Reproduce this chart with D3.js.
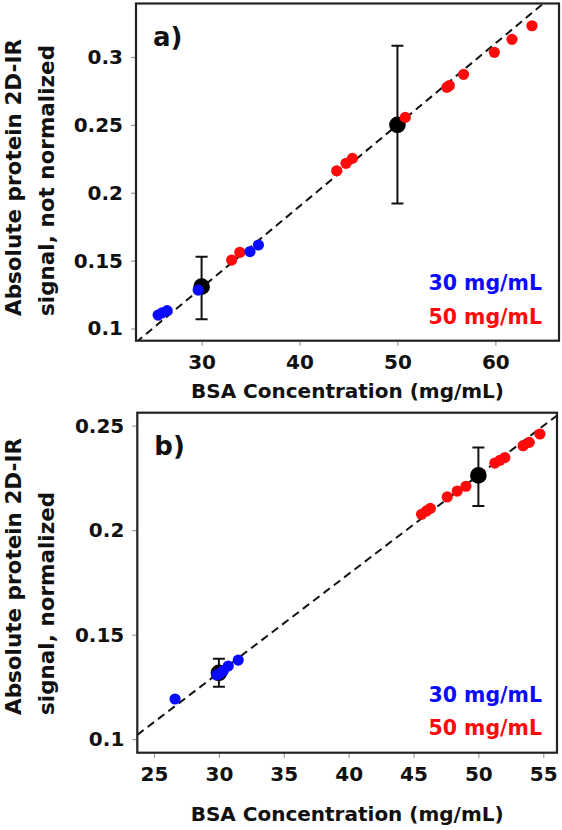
<!DOCTYPE html>
<html><head><meta charset="utf-8">
<script src="https://cdn.jsdelivr.net/npm/d3@7"></script>
<style>
html,body{margin:0;padding:0;background:#fff;}
svg{display:block;font-family:"DejaVu Sans",sans-serif;font-weight:bold;}
</style></head>
<body><svg id="c" width="562" height="830"></svg>
<script>
// ---------- Panel a data (not normalized) ----------
const aXTicks = [30, 40, 50, 60];
const aYTicks = [0.1, 0.15, 0.2, 0.25, 0.3];
const aYTickLabels = ["0.1", "0.15", "0.2", "0.25", "0.3"];
const aBlueX = [25.56, 25.95, 26.48, 29.65, 34.94, 35.8];
const aBlueY = [0.1099, 0.1115, 0.1131, 0.1283, 0.1566, 0.1615];
const aRedX = [33.07, 33.9, 43.8, 44.75, 45.4, 50.8, 55.05, 55.3, 56.75, 59.9, 61.7, 63.74];
const aRedY = [0.1504, 0.1561, 0.2162, 0.2217, 0.2253, 0.2555, 0.2776, 0.279, 0.2872, 0.3034, 0.313, 0.323];
const aMeanX = [30, 50];
const aMeanY = [0.1308, 0.2500];
const aErrLo = [0.1068, 0.1921];
const aErrHi = [0.1529, 0.3083];
const aFit = [0.006, -0.05]; // slope, intercept

// ---------- Panel b data (normalized) ----------
const bXTicks = [25, 30, 35, 40, 45, 50, 55];
const bYTicks = [0.1, 0.15, 0.2, 0.25];
const bYTickLabels = ["0.1", "0.15", "0.2", "0.25"];
const bBlueX = [26.62, 29.83, 30.08, 30.34, 30.72, 31.49];
const bBlueY = [0.1192, 0.1307, 0.1315, 0.1327, 0.135, 0.1378];
const bRedX = [45.62, 46.0, 46.3, 47.6, 48.37, 49.04, 51.27, 51.66, 52.04, 53.45, 53.92, 54.74];
const bRedY = [0.2076, 0.2092, 0.2104, 0.2159, 0.2187, 0.221, 0.2321, 0.2334, 0.2347, 0.2404, 0.242, 0.246];
const bMeanX = [30, 50];
const bMeanY = [0.1317, 0.2262];
const bErrLo = [0.125, 0.2116];
const bErrHi = [0.1384, 0.2395];
const bFit = [0.004725, -0.01];

const legendLabels = ["30 mg/mL", "50 mg/mL"];
const xTitle = "BSA Concentration (mg/mL)";
const yTitleA = ["Absolute protein 2D-IR", "signal, not normalized"];
const yTitleB = ["Absolute protein 2D-IR", "signal, normalized"];

const BLUE = "#0a0aff", RED = "#ff0a0a";
const svg = d3.select("#c");

function panel(cfg) {
  const x = d3.scaleLinear().domain(cfg.xDom).range([cfg.left, cfg.right]);
  const y = d3.scaleLinear().domain(cfg.yDom).range([cfg.bottom, cfg.top]);
  const g = svg.append("g");

  // axes
  const xa = g.append("g").attr("transform", `translate(0,${cfg.bottom})`)
    .call(d3.axisBottom(x).tickValues(cfg.xTicks).tickSize(5).tickPadding(8).tickFormat(d3.format("d")));
  const ya = g.append("g").attr("transform", `translate(${cfg.left},0)`)
    .call(d3.axisLeft(y).tickValues(cfg.yTicks).tickSize(5).tickPadding(8).tickFormat((d, i) => cfg.yTickLabels[i]));
  [xa, ya].forEach(a => {
    a.select(".domain").remove();
    a.selectAll(".tick line").attr("stroke", "#999").attr("stroke-width", 1.2);
    a.selectAll(".tick text").attr("fill", "#111").style("font-size", "20px")
      .style("font-family", '"DejaVu Sans",sans-serif').style("font-weight", "bold");
  });
  xa.selectAll(".tick text").attr("dy", "0.78em");

  // clip
  const cid = "clip" + cfg.name;
  svg.append("clipPath").attr("id", cid).append("rect")
    .attr("x", cfg.left).attr("y", cfg.top).attr("width", cfg.right - cfg.left).attr("height", cfg.bottom - cfg.top);
  const pg = g.append("g").attr("clip-path", `url(#${cid})`);

  // fit line
  const [m, b] = cfg.fit;
  const x0 = cfg.xDom[0], x1 = cfg.xDom[1];
  pg.append("line").attr("x1", x(x0)).attr("y1", y(m * x0 + b)).attr("x2", x(x1)).attr("y2", y(m * x1 + b))
    .attr("stroke", "#111").attr("stroke-width", 2).attr("stroke-dasharray", "8,5");

  // error bars
  cfg.meanX.forEach((mx, i) => {
    const cx = x(mx);
    pg.append("line").attr("x1", cx).attr("x2", cx).attr("y1", y(cfg.errLo[i])).attr("y2", y(cfg.errHi[i]))
      .attr("stroke", "#111").attr("stroke-width", 2);
    [cfg.errLo[i], cfg.errHi[i]].forEach(v => {
      pg.append("line").attr("x1", cx - 6).attr("x2", cx + 6).attr("y1", y(v)).attr("y2", y(v))
        .attr("stroke", "#111").attr("stroke-width", 2);
    });
  });
  // means
  pg.selectAll(".mean").data(cfg.meanX).join("circle")
    .attr("cx", d => x(d)).attr("cy", (d, i) => y(cfg.meanY[i])).attr("r", 8.3).attr("fill", "#000");
  // red & blue
  pg.selectAll(".red").data(cfg.redX).join("circle").attr("class", "red")
    .attr("cx", d => x(d)).attr("cy", (d, i) => y(cfg.redY[i])).attr("r", 5.6).attr("fill", RED);
  pg.selectAll(".blue").data(cfg.blueX).join("circle").attr("class", "blue")
    .attr("cx", d => x(d)).attr("cy", (d, i) => y(cfg.blueY[i])).attr("r", 5.6).attr("fill", BLUE);

  // frame
  g.append("rect").attr("x", cfg.left).attr("y", cfg.top).attr("width", cfg.right - cfg.left).attr("height", cfg.bottom - cfg.top)
    .attr("fill", "none").attr("stroke", "#222").attr("stroke-width", 2.2);

  // panel label
  g.append("text").attr("x", cfg.left + 17).attr("y", cfg.top + 42).attr("font-size", 26).attr("fill", "#111").text(cfg.label);

  // legend
  g.append("text").attr("x", 542).attr("y", cfg.legY[0]).attr("text-anchor", "end").attr("font-size", 20.5).attr("fill", BLUE).text(legendLabels[0]);
  g.append("text").attr("x", 542).attr("y", cfg.legY[1]).attr("text-anchor", "end").attr("font-size", 20.5).attr("fill", RED).text(legendLabels[1]);

  // x title
  g.append("text").attr("x", (cfg.left + cfg.right) / 2 + 0).attr("y", cfg.xTitleY).attr("text-anchor", "middle")
    .attr("font-size", 20).attr("fill", "#111").text(xTitle);

  // y title
  cfg.yTitle.forEach((t, i) => {
    g.append("text").attr("transform", `translate(${[21, 54][i]},${cfg.yTitleStart}) rotate(-90)`)
      .attr("text-anchor", "start").attr("font-size", 21.5).attr("fill", "#111").text(t);
  });
}

panel({
  name: "a", xDom: [23.3, 66.5], yDom: [0.091, 0.3394], left: 136, right: 559, top: 3.5, bottom: 340.7,
  xTicks: aXTicks, yTicks: aYTicks, yTickLabels: aYTickLabels,
  blueX: aBlueX, blueY: aBlueY, redX: aRedX, redY: aRedY,
  meanX: aMeanX, meanY: aMeanY, errLo: aErrLo, errHi: aErrHi, fit: aFit,
  label: "a)", legY: [290, 324], xTitleY: 398, yTitle: yTitleA, yTitleStart: 316
});
panel({
  name: "b", xDom: [23.71, 56.06], yDom: [0.0935, 0.2562], left: 137.3, right: 557, top: 412.7, bottom: 752.7,
  xTicks: bXTicks, yTicks: bYTicks, yTickLabels: bYTickLabels,
  blueX: bBlueX, blueY: bBlueY, redX: bRedX, redY: bRedY,
  meanX: bMeanX, meanY: bMeanY, errLo: bErrLo, errHi: bErrHi, fit: bFit,
  label: "b)", legY: [702, 735], xTitleY: 821, yTitle: yTitleB, yTitleStart: 715
});
</script></body></html>
